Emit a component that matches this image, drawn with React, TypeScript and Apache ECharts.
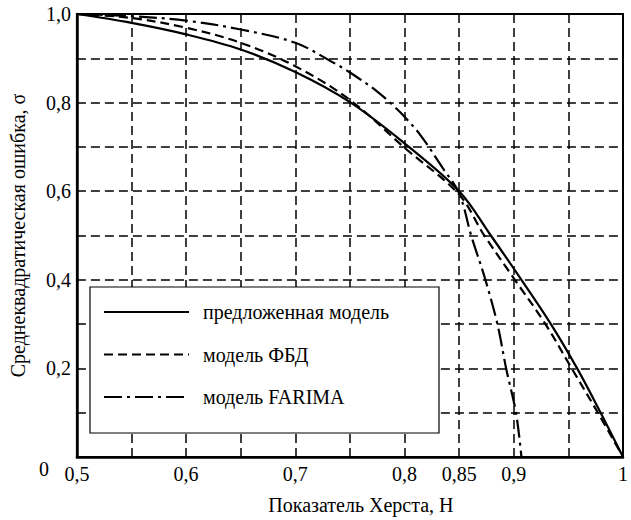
import React, { useEffect, useRef } from "react";
import * as echarts from "echarts";

const seriesNames = ["предложенная модель", "модель ФБД", "модель FARIMA"];

const proposedH = [0.5, 0.55, 0.6, 0.65, 0.7, 0.75, 0.8, 0.85, 0.879, 0.907, 0.934, 0.958, 0.9795, 1.0];
const proposedSigma = [1.0, 0.98, 0.954, 0.92, 0.869, 0.801, 0.708, 0.6, 0.5, 0.4, 0.3, 0.2, 0.1, 0];

const fbdH = [0.5, 0.55, 0.6, 0.65, 0.7, 0.75, 0.8, 0.85, 0.873, 0.901, 0.929, 0.953, 0.977, 1.0];
const fbdSigma = [1.0, 0.991, 0.969, 0.935, 0.882, 0.806, 0.698, 0.592, 0.5, 0.4, 0.3, 0.2, 0.1, 0];

const farimaH = [0.5, 0.55, 0.6, 0.65, 0.7, 0.735, 0.75, 0.775, 0.791, 0.8, 0.815, 0.835, 0.85, 0.861, 0.874, 0.885, 0.893, 0.902, 0.907];
const farimaSigma = [1.0, 0.995, 0.985, 0.965, 0.935, 0.89, 0.868, 0.825, 0.79, 0.768, 0.725, 0.652, 0.595, 0.5, 0.4, 0.3, 0.2, 0.1, 0];

const xLabeledTicks = [0.5, 0.6, 0.7, 0.8, 0.85, 0.9, 1];
const yLabeledTicks = [0, 0.2, 0.4, 0.6, 0.8, 1];

const xAxisTitle = "Показатель Херста, H";
const yAxisTitle = "Среднеквадратическая ошибка, σ";

const zip = (xs: number[], ys: number[]) => xs.map((x, i) => [x, ys[i]]);

export default function App() {
  const ref = useRef<HTMLDivElement>(null);

  useEffect(() => {
    document.body.style.margin = "0";
    if (!ref.current) return;
    const chart = echarts.init(ref.current, undefined, { renderer: "svg" });

    const gridLine = {
      show: true,
      lineStyle: { color: "#000", width: 1.5, type: [9, 5] as any },
    };

    const lineSeries = (name: string, data: number[][], type: any) => ({
      name,
      type: "line",
      data,
      symbol: "none",
      smooth: 0.35,
      lineStyle: { color: "#000", width: 2.2, type },
      itemStyle: { color: "#000" },
      z: 3,
    });

    chart.setOption({
      animation: false,
      grid: {
        left: 66,
        right: 3,
        top: 14,
        bottom: 57,
        show: true,
        borderColor: "#000",
        borderWidth: 2,
      },
      xAxis: {
        type: "value",
        min: 0.5,
        max: 1,
        interval: 0.05,
        name: xAxisTitle,
        nameLocation: "middle",
        nameGap: 38,
        nameTextStyle: {
          fontFamily: "Liberation Serif",
          fontSize: 20,
          color: "#000",
          padding: [0, 0, 0, 22],
        },
        axisLine: { show: true, lineStyle: { color: "#000", width: 2.5 } },
        axisTick: { show: false },
        splitLine: gridLine,
        axisLabel: {
          margin: 7,
          fontFamily: "Liberation Serif",
          fontSize: 20,
          color: "#000",
          customValues: xLabeledTicks,
          formatter: (v: number) => {
            const k = Math.round(v * 100);
            if (k === 100) return "1";
            const s = k % 10 === 0 ? (k / 100).toFixed(1) : (k / 100).toFixed(2);
            return s.replace(".", ",");
          },
        },
      },
      yAxis: {
        type: "value",
        min: 0,
        max: 1,
        interval: 0.1,
        name: yAxisTitle,
        nameLocation: "middle",
        nameGap: 46,
        nameTextStyle: { fontFamily: "Liberation Serif", fontSize: 20, color: "#000" },
        axisLine: { show: true, lineStyle: { color: "#000", width: 2.5 } },
        axisTick: { show: false },
        splitLine: gridLine,
        axisLabel: {
          margin: 6,
          fontFamily: "Liberation Serif",
          fontSize: 20,
          color: "#000",
          customValues: yLabeledTicks,
          formatter: (v: number) => {
            const k = Math.round(v * 10);
            if (k === 0) return "{z|0}";
            return (k / 10).toFixed(1).replace(".", ",");
          },
          rich: {
            z: {
              fontFamily: "Liberation Serif",
              fontSize: 20,
              color: "#000",
              padding: [24, 22, 0, 0],
            },
          },
        },
      },
      legend: {
        orient: "vertical",
        left: 103,
        top: 302,
        padding: 0,
        itemWidth: 85,
        itemHeight: 20,
        itemGap: 22.5,
        z: 60,
        selectedMode: false,
        itemStyle: { opacity: 0 },
        textStyle: {
          fontFamily: "Liberation Serif",
          fontSize: 20,
          color: "#000",
          padding: [0, 0, 0, 9],
        },
        data: seriesNames,
      },
      graphic: [
        {
          type: "rect",
          z: 50,
          shape: { x: 90, y: 287, width: 349, height: 146 },
          style: { fill: "#fff", stroke: "#000", lineWidth: 1.2 },
        },
      ],
      series: [
        lineSeries(seriesNames[0], zip(proposedH, proposedSigma), "solid"),
        lineSeries(seriesNames[1], zip(fbdH, fbdSigma), [9, 5]),
        lineSeries(seriesNames[2], zip(farimaH, farimaSigma), [18, 5, 3, 5]),
      ],
    });

    return () => chart.dispose();
  }, []);

  return <div ref={ref} style={{ width: 631, height: 520 }} />;
}
